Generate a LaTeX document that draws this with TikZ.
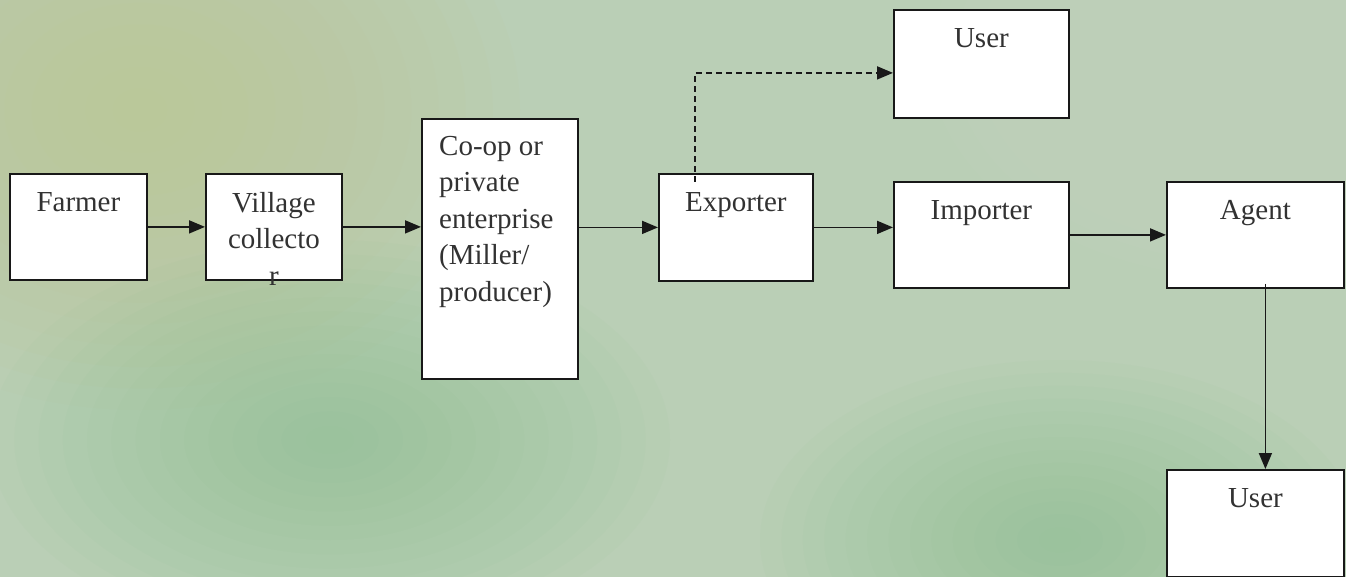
\documentclass[tikz,border=0pt]{standalone}
\usepackage{fontspec}
\setmainfont{Liberation Serif}
\usetikzlibrary{arrows.meta,positioning}
\definecolor{ink}{RGB}{24,24,24}
\definecolor{txtc}{RGB}{50,50,50}
\definecolor{paper}{RGB}{186,207,182}
\definecolor{straw}{RGB}{200,200,140}
\definecolor{moss}{RGB}{140,194,145}
\definecolor{mist}{RGB}{205,222,200}
\tikzset{
  blk/.style={draw=ink,fill=white,line width=1.8pt,anchor=north west,inner sep=0pt},
  txt/.style={font=\fontsize{29}{36.5}\selectfont,text=txtc,inner sep=0pt,align=center,anchor=north,yshift=-19pt},
  arr/.style={-{Triangle[length=16pt,width=13pt]},line width=1.7pt,draw=ink}
}

\begin{document}
\begin{tikzpicture}[x=1pt,y=-1pt]
\useasboundingbox (0,0) rectangle (1346,577);
% background wash, built from faint stacked ellipses
\begin{scope}
\clip (0,0) rectangle (1346,577);
\fill[paper] (0,0) rectangle (1346,577);
\foreach \cx/\cy/\rx/\ry/\c in {140/110/380/300/straw,1260/60/330/220/mist,330/440/340/200/moss,1060/540/300/180/moss}
  \foreach \k in {1,...,14}
    \fill[\c,opacity=0.06] (\cx,\cy) ellipse [x radius={\rx*\k/14*1pt},y radius={\ry*\k/14*1pt}];
\end{scope}
\node[blk,minimum width=137pt,minimum height=106pt,label={[txt]north:Farmer}] (farmer) at (9,173) {};
\node[blk,minimum width=136pt,minimum height=106pt,label={[txt]north:Village\\collecto\\r}] (village) at (205,173) {};
\node[blk,minimum width=156pt,minimum height=260pt,label={[txt,align=left,anchor=north west,xshift=18pt,yshift=1pt]north west:Co-op or\\private\\enterprise\\(Miller/\\producer)}] (coop) at (421,118) {};
\node[blk,minimum width=154pt,minimum height=107pt,label={[txt]north:Exporter}] (exporter) at (658,173) {};
\node[blk,minimum width=175pt,minimum height=108pt,label={[txt]north:User}] (userA) at (893,9) {};
\node[blk,minimum width=175pt,minimum height=106pt,label={[txt]north:Importer}] (importer) at (893,181) {};
\node[blk,minimum width=177pt,minimum height=106pt,label={[txt]north:Agent}] (agent) at (1166,181) {};
\node[blk,minimum width=177pt,minimum height=107pt,label={[txt]north:User}] (userB) at (1166,469) {};
\draw[arr] (farmer) -- (village);
\draw[arr] (village.east) -- (village.east -| coop.west);
\draw[arr] (coop.east |- exporter.west) -- (exporter.west);
\draw[arr] (exporter.east) -- (exporter.east -| importer.west);
\draw[arr] (importer) -- (agent);
\draw[arr,dash pattern=on 6pt off 4pt] ([xshift=37pt,yshift=-9pt]exporter.north west) |- ([yshift=-9pt]userA.west);
\draw[arr] ([xshift=10pt,yshift=5pt]agent.south) -- ([xshift=10pt]userB.north);
\end{tikzpicture}
\end{document}
